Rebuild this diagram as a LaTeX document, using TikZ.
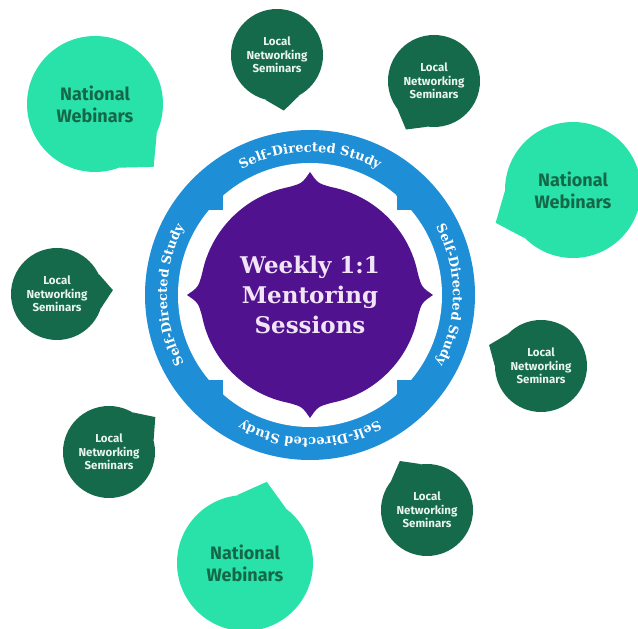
\documentclass[tikz,border=0pt]{standalone}
\usepackage{fontspec}
\usepackage{tikz}
\usetikzlibrary{decorations.text}
\newfontfamily\ringserif{DejaVu Serif}
\newfontfamily\bubblesans{Fira Sans}
\newcommand\ringfont{\ringserif\bfseries\fontsize{13}{15}\selectfont}
\definecolor{ringblue}{RGB}{30,142,214}
\definecolor{mentorpurple}{RGB}{80,18,142}
\definecolor{mentortext}{RGB}{240,228,246}
\definecolor{mint}{RGB}{40,226,170}
\definecolor{nattext}{RGB}{20,104,72}
\definecolor{darkgreen}{RGB}{22,106,76}
\definecolor{localtext}{RGB}{232,244,238}

\begin{document}
\begin{tikzpicture}[x=1pt,y=1pt,
    local/.style={circle,fill=darkgreen,text=localtext,inner sep=0pt,minimum size=92pt,align=center,
        font=\bubblesans\bfseries\fontsize{11.5}{13.5}\selectfont},
    national/.style={circle,fill=mint,text=nattext,inner sep=0pt,minimum size=136pt,align=center,
        font=\bubblesans\bfseries\fontsize{18}{22}\selectfont},
    ringtext/.style={decorate,decoration={text along path,text align=center,text color=white,
        text={|\ringfont|Self-Directed Study}}}]
        \useasboundingbox (0,0) rectangle (638,629);

        % ring and hub
        \coordinate (hub) at (310,334);
        \fill[ringblue] (hub) circle (165);
        \begin{scope}
            \clip (hub) circle (132);
            \fill[white] ([shift={(-87,-140)}]hub) rectangle ([shift={(87,140)}]hub);
            \fill[white] ([shift={(-140,-85)}]hub) rectangle ([shift={(140,85)}]hub);
        \end{scope}
        \fill[mentorpurple] ([shift={(11:110)}]hub)
        \foreach \a in {0,90,180,270}{
            arc[start angle=\a+11, end angle=\a+79, radius=110]
            .. controls ([shift={({\a+86}:112)}]hub) .. ([shift={({\a+90}:123)}]hub)
            .. controls ([shift={({\a+94}:112)}]hub) .. ([shift={({\a+101}:110)}]hub)
        } -- cycle;
        \node[font=\ringserif\bfseries\fontsize{23}{30}\selectfont,text=mentortext,align=center]
            (mentor) at (hub) {Weekly 1:1\\Mentoring\\Sessions};

        \path[ringtext] ([shift={(135:143)}]hub) arc[start angle=135, end angle=45, radius=143];
        \path[ringtext] ([shift={(45:143)}]hub) arc[start angle=45, end angle=-45, radius=143];
        \path[ringtext] ([shift={(-45:143)}]hub) arc[start angle=-45, end angle=-135, radius=143];
        \path[ringtext] ([shift={(225:143)}]hub) arc[start angle=225, end angle=135, radius=143];

        % bubbles
        \node[national] (nat1) at (95,525) {National\\Webinars};
        \node[national] (nat2) at (573,439) {National\\Webinars};
        \node[national] (nat3) at (245,66)  {National\\Webinars};
        \node[local]    (loc1) at (277,574) {Local\\Networking\\Seminars};
        \node[local]    (loc2) at (434,548) {Local\\Networking\\Seminars};
        \node[local]    (loc3) at (57,335)  {Local\\Networking\\Seminars};
        \node[local]    (loc4) at (109,177) {Local\\Networking\\Seminars};
        \node[local]    (loc5) at (427,119) {Local\\Networking\\Seminars};
        \node[local]    (loc6) at (541,263) {Local\\Networking\\Seminars};

        % tails
        \fill[mint] (nat1.335) -- ([shift={(313:86)}]nat1.center) -- (nat1.291);
        \fill[mint] (nat2.181) -- ([shift={(203:84)}]nat2.center) -- (nat2.225);
        \fill[mint] (nat3.53)  -- ([shift={(75:84)}]nat3.center)  -- (nat3.97);
        \fill[darkgreen] (loc1.255) -- ([shift={(277:56)}]loc1.center) -- (loc1.299);
        \fill[darkgreen] (loc2.218) -- ([shift={(240:56)}]loc2.center) -- (loc2.262);
        \fill[darkgreen] (loc3.342) -- ([shift={(4:56)}]loc3.center)   -- (loc3.26);
        \fill[darkgreen] (loc4.15)  -- ([shift={(37:58)}]loc4.center)  -- (loc4.59);
        \fill[darkgreen] (loc5.97)  -- ([shift={(119:56)}]loc5.center) -- (loc5.141);
        \fill[darkgreen] (loc6.136) -- ([shift={(158:56)}]loc6.center) -- (loc6.180);
    \end{tikzpicture}
\end{document}
